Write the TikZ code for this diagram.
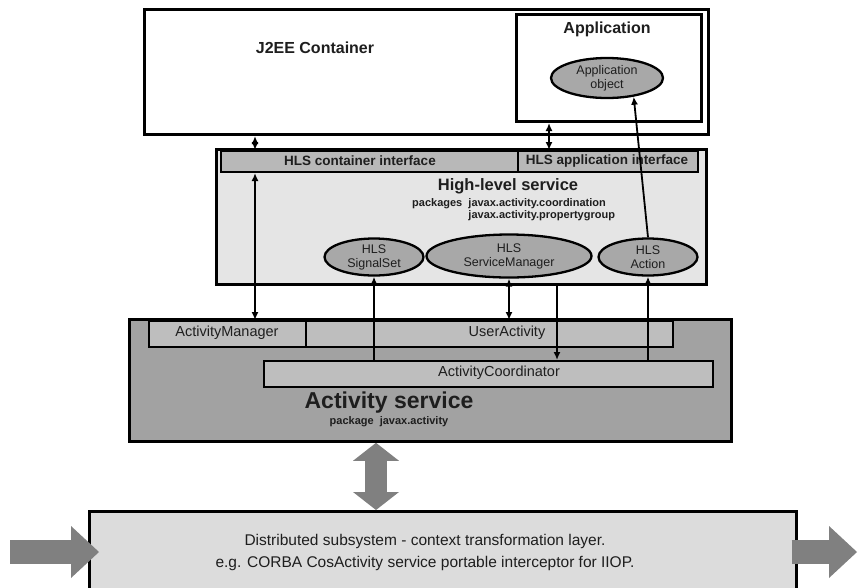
\documentclass[tikz,border=0pt]{standalone}
\usepackage{fontspec}
\setmainfont{Liberation Sans}
\usetikzlibrary{shapes, arrows.meta}
\definecolor{hlsgray}{RGB}{229,229,229}
\definecolor{ifcgray}{RGB}{184,184,184}
\definecolor{objgray}{RGB}{168,168,168}
\definecolor{actgray}{RGB}{162,162,162}
\definecolor{subgray}{RGB}{190,190,190}
\definecolor{distgray}{RGB}{220,220,220}
\definecolor{fatgray}{RGB}{128,128,128}
\definecolor{txt}{RGB}{30,30,30}
\tikzset{>={Latex[length=8pt,width=7pt]}}
\tikzset{
  box/.style = {draw, line width=2.5pt, inner sep=0pt, anchor=north west},
  bar/.style = {draw, line width=2pt, fill=subgray, inner sep=0pt, anchor=north west},
  obj/.style = {draw, ellipse, line width=2.3pt, fill=objgray, inner sep=0pt, align=center, text=txt, font=\fontsize{12.5}{14}\selectfont},
  lbl/.style = {text=txt, inner sep=0pt},
  link/.style = {line width=1.8pt},
  fat/.style = {draw=fatgray, line width=24pt},
  fattip/.tip = {Triangle[length=28pt, width=52pt, line width=0pt]},
  midtip/.tip = {Triangle[length=18pt, width=46pt, line width=0pt]}
}
\begin{document}
\begin{tikzpicture}[x=1pt, y=-1pt]
\useasboundingbox (0,0) rectangle (858,587);

% J2EE container
\node[box, line width=3pt, fill=white, minimum width=564pt, minimum height=125pt] (j2ee) at (143,8) {};
\node[box, line width=3pt, minimum width=185pt, minimum height=107pt] (app) at (515,13) {};
\node[lbl, font=\bfseries\fontsize{16}{16}\selectfont] (j2eelbl) at (315,48) {J2EE Container};
\node[lbl, font=\bfseries\fontsize{16}{16}\selectfont] (applbl) at (607,29) {Application};
\node[obj, minimum width=112pt, minimum height=40pt] (appobj) at (607,78) {Application\\object};

% high-level service
\node[box, line width=2.8pt, fill=hlsgray, minimum width=490pt, minimum height=135pt] (hls) at (215,148) {};
\node[bar, fill=ifcgray, minimum width=297pt, minimum height=21pt] (cifc) at (220,150) {};
\node[bar, fill=ifcgray, minimum width=180pt, minimum height=21pt] (aifc) at (517,150) {};
\node[lbl, font=\bfseries\fontsize{13.5}{13.5}\selectfont] (cifclbl) at (360,161) {HLS container interface};
\node[lbl, font=\bfseries\fontsize{13.5}{13.5}\selectfont] (aifclbl) at (607,161) {HLS application interface};
\node[lbl, font=\bfseries\fontsize{16.5}{16.5}\selectfont] (hlslbl) at (508,186) {High-level service};
\node[lbl, anchor=west, align=left, font=\bfseries\fontsize{11}{12}\selectfont] (hlspkg) at (412,210)
  {packages\ \ javax.activity.coordination\\\phantom{packages\ \ }javax.activity.propertygroup};
\node[obj, minimum width=99pt, minimum height=37pt] (sigset) at (374,257) {HLS\\SignalSet};
\node[obj, minimum width=165pt, minimum height=43pt] (svcmgr) at (509,256) {HLS\\ServiceManager};
\node[obj, minimum width=99pt, minimum height=37pt] (hlsact) at (648,257) {HLS\\Action};

% activity service
\node[box, line width=2.8pt, fill=actgray, minimum width=602pt, minimum height=122pt] (act) at (128,318) {};
\node[bar, minimum width=157pt, minimum height=26pt] (actmgr) at (148,320) {};
\node[bar, minimum width=367pt, minimum height=26pt] (useract) at (305,320) {};
\node[bar, minimum width=449pt, minimum height=26pt] (coord) at (263,360) {};
\node[lbl, font=\fontsize{14.5}{14.5}\selectfont] (actmgrlbl) at (227,333) {ActivityManager};
\node[lbl, font=\fontsize{14.5}{14.5}\selectfont] (useractlbl) at (507,333) {UserActivity};
\node[lbl, font=\fontsize{14.5}{14.5}\selectfont] (coordlbl) at (499,373) {ActivityCoordinator};
\node[lbl, font=\bfseries\fontsize{23}{23}\selectfont] (actlbl) at (389,403) {Activity service};
\node[lbl, font=\bfseries\fontsize{11}{11}\selectfont] (actpkg) at (389,422) {package\ \ javax.activity};

% distributed subsystem
\node[box, fill=distgray, minimum width=707pt, minimum height=100pt] (dist) at (88,510) {};
\node[lbl, align=center, font=\fontsize{15.5}{22}\selectfont] (distlbl) at (425,552)
  {Distributed subsystem - context transformation layer.\\e.g. CORBA CosActivity service portable interceptor for IIOP.};

% connectors
\coordinate (c1) at (255,0);
\coordinate (c2) at (549,0);
\coordinate (c5) at (557,0);
\coordinate (cfat) at (376,0);
\coordinate (inL) at (10,552);
\coordinate (outR) at (857,552);
\draw[link, <->] (c1 |- j2ee.south) -- (c1 |- cifc.north);
\draw[link, <->] (c2 |- app.south) -- (c2 |- aifc.north);
\draw[link, ->] (hlsact.north) -- (appobj.-35);
\draw[link, <->] (c1 |- cifc.south) -- (c1 |- actmgr.north);
\draw[link, ->] (sigset.south |- coord.north) -- (sigset.south);
\draw[link, <->] (svcmgr.south) -- (svcmgr.south |- useract.north);
\draw[link, ->] (c5 |- hls.south) -- (c5 |- coord.north);
\draw[link, ->] (hlsact.south |- coord.north) -- (hlsact.south);

\draw[fat, line width=22pt, midtip-midtip] (cfat |- act.south) -- (cfat |- dist.north);
\draw[fat, -fattip, shorten >=-11pt] (inL) -- (dist.west |- inL);
\draw[fat, -fattip, shorten <=-6pt] (dist.east |- outR) -- (outR);
\end{tikzpicture}
\end{document}
